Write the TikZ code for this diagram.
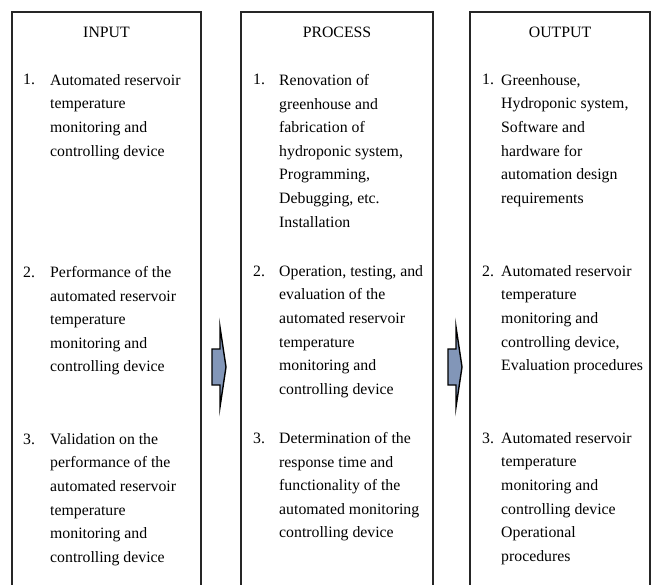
\documentclass[tikz,border=0pt]{standalone}
\usepackage{fontspec}
\setmainfont{Liberation Serif}
\usetikzlibrary{positioning}
\definecolor{arrowblue}{RGB}{130,150,184}

\begin{document}
\begin{tikzpicture}[x=1pt, y=-1pt, font=\fontsize{15.8}{23.6}\selectfont,
  frame/.style={line width=1.1pt, black!85},
  title/.style={anchor=base, inner sep=0pt},
  num/.style={anchor=base west, inner sep=0pt},
  % lift the block by the height of its first line, so the given y is its first baseline
  entry/.style={anchor=north west, align=left, inner sep=0pt, yshift=10.9pt},
  flowarrow/.pic={\draw[line width=1.4pt, fill=arrowblue, line join=miter, miter limit=20]
    (-8,-18) -- (0,-18) -- (0,-40) -- (6,0) -- (0,40) -- (0,18) -- (-8,18) -- cycle;}]
  \useasboundingbox (0,0) rectangle (652,585);

  % three open columns
  \draw[frame] (12,586) |- (201,12) -- (201,586);
  \draw[frame] (241,586) |- (433,12) -- (433,586);
  \draw[frame] (470,586) |- (650,12) -- (650,586);

  % block arrows between the columns
  \pic at (220,367) {flowarrow};
  \pic at (456,367) {flowarrow};

  % headings
  \node[title] (inputhead) at (106.5,38) {INPUT};
  \node[title] (processhead) at (337,38) {PROCESS};
  \node[title] (outputhead) at (560,38) {OUTPUT};

  % input column
  \node[num] (in1n) at (23,85) {1.};
  \node[entry] (in1) at (50,85) {Automated reservoir\\temperature\\monitoring and\\controlling device};
  \node[num] (in2n) at (23,277) {2.};
  \node[entry] (in2) at (50,277) {Performance of the\\automated reservoir\\temperature\\monitoring and\\controlling device};
  \node[num] (in3n) at (23,444) {3.};
  \node[entry] (in3) at (50,444) {Validation on the\\performance of the\\automated reservoir\\temperature\\monitoring and\\controlling device};

  % process column
  \node[num] (pr1n) at (253,85) {1.};
  \node[entry] (pr1) at (279,85) {Renovation of\\greenhouse and\\fabrication of\\hydroponic system,\\Programming,\\Debugging, etc.\\Installation};
  \node[num] (pr2n) at (253,276) {2.};
  \node[entry] (pr2) at (279,276) {Operation, testing, and\\evaluation of the\\automated reservoir\\temperature\\monitoring and\\controlling device};
  \node[num] (pr3n) at (253,443) {3.};
  \node[entry] (pr3) at (279,443) {Determination of the\\response time and\\functionality of the\\automated monitoring\\controlling device};

  % output column
  \node[num] (out1n) at (482,85) {1.};
  \node[entry] (out1) at (501,85) {Greenhouse,\\Hydroponic system,\\Software and\\hardware for\\automation design\\requirements};
  \node[num] (out2n) at (482,276) {2.};
  \node[entry] (out2) at (501,276) {Automated reservoir\\temperature\\monitoring and\\controlling device,\\Evaluation procedures};
  \node[num] (out3n) at (482,443) {3.};
  \node[entry] (out3) at (501,443) {Automated reservoir\\temperature\\monitoring and\\controlling device\\Operational\\procedures};
\end{tikzpicture}
\end{document}
